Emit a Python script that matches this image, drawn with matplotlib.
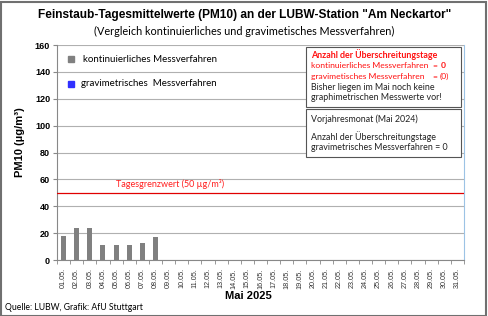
import matplotlib
matplotlib.use("Agg")
from matplotlib import pyplot as plt
from matplotlib.patches import Rectangle
import numpy as np

# data
days = ["%02d.05." % d for d in range(1, 32)]
kontinuierlich = [18, 24, 24, 11, 11, 11, 13, 17]
grenzwert = 50
yticks = [0, 20, 40, 60, 80, 100, 120, 140, 160]

W, H = 489, 316
fig = plt.figure(figsize=(W / 100, H / 100), dpi=100)
ax = fig.add_axes([57 / W, 1 - 260 / H, (464 - 57) / W, (260 - 45) / H])

x = np.arange(len(days))
ax.bar(x[:len(kontinuierlich)], kontinuierlich, width=0.38, color="#808080", zorder=3)
ax.axhline(grenzwert, color="#e00000", lw=0.9, zorder=4)
ax.text(8.1, grenzwert + 2.5, "Tagesgrenzwert (50 µg/m³)", color="#ff2020",
        ha="center", va="bottom", fontsize=6.5, family="Lato")

ax.set_xlim(-0.5, len(days) - 0.5)
ax.set_ylim(0, 160)
ax.set_yticks(yticks)
ax.set_yticklabels([str(v) for v in yticks], fontsize=6.5, fontweight="bold", family="Liberation Sans")
ax.yaxis.grid(True, color="#b0b0b0", lw=0.8, zorder=0)
ax.set_xticks(x)
ax.set_xticklabels(days, rotation=90, fontsize=5.2, family="Liberation Sans", color="#333333")
ax.set_xticks(np.arange(-0.5, len(days)), minor=True)
ax.tick_params(axis="x", which="major", length=0, pad=6)
ax.tick_params(axis="x", which="minor", length=3, color="#888888")
ax.tick_params(axis="y", length=3, color="#888888", pad=2)
ax.spines["top"].set_visible(False)
ax.spines["right"].set_color("#9cc3e5")
ax.spines["left"].set_color("#888888")
ax.spines["bottom"].set_color("#888888")

ax.set_xlabel("Mai 2025", fontsize=8, fontweight="bold", family="Liberation Sans")
ax.xaxis.set_label_coords((248 - 57) / 407, (260 - 291) / 215)
ax.set_ylabel("PM10 (µg/m³)", fontsize=8, fontweight="bold", family="Liberation Sans")
ax.yaxis.set_label_coords((25 - 57) / 407, (260 - 142) / 215)

# legend
ax.add_patch(Rectangle((68 / W, 1 - 62 / H), 6 / W, 6 / H, transform=fig.transFigure,
                       color="#808080", clip_on=False))
fig.text(83 / W, 1 - 59 / H, "kontinuierliches Messverfahren", fontsize=7, family="Lato", va="center")
ax.add_patch(Rectangle((68 / W, 1 - 87 / H), 6 / W, 6 / H, transform=fig.transFigure,
                       color="#3030ff", clip_on=False))
fig.text(81 / W, 1 - 84 / H, "gravimetrisches  Messverfahren", fontsize=7, family="Lato", va="center")

# info boxes
fig.patches.append(Rectangle((306 / W, 1 - 107 / H), 155 / W, 60 / H, transform=fig.transFigure,
                             fill=True, fc="white", ec="#555555", lw=0.8, zorder=5))
fig.patches.append(Rectangle((306 / W, 1 - 157 / H), 155 / W, 48 / H, transform=fig.transFigure,
                             fill=True, fc="white", ec="#555555", lw=0.8, zorder=5))
fs = 6.4
fr = 6.1
red = "#ff1010"
dark = "#222222"


def boxtext(px, py, s, **kw):
    opts = dict(fontsize=fs, family="Lato", va="center", zorder=6, color=dark)
    opts.update(kw)
    fig.text(px / W, 1 - py / H, s, **opts)


boxtext(311, 55, "Anzahl der Überschreitungstage", color=red, fontweight="bold")
boxtext(311, 65.5, "kontinuierliches Messverfahren", color=red, fontsize=fr)
boxtext(432, 65.5, "=", color=red, fontsize=fr)
boxtext(441, 65.5, "0", color=red, fontsize=fr, fontweight="bold")
boxtext(311, 76.5, "gravimetisches Messverfahren", color=red, fontsize=fr)
boxtext(432, 76.5, "=", color=red, fontsize=fr)
boxtext(440, 76.5, "(0)", color=red, fontsize=fr)
boxtext(311, 87, "Bisher liegen im Mai noch keine")
boxtext(311, 98, "graphimetrischen Messwerte vor!")
boxtext(311, 119, "Vorjahresmonat (Mai 2024)")
boxtext(311, 137, "Anzahl der Überschreitungstage")
boxtext(311, 147.5, "gravimetrisches Messverfahren = 0")

# titles
fig.text(0.5, 1 - 15 / H, 'Feinstaub-Tagesmittelwerte (PM10) an der LUBW-Station "Am Neckartor"',
         ha="center", va="center", fontsize=8.6, fontweight="bold", family="Liberation Sans")
fig.text(0.5, 1 - 31 / H, "(Vergleich kontinuierliches und gravimetisches Messverfahren)",
         ha="center", va="center", fontsize=7.8, family="Lato")
fig.text(5 / W, 1 - 308 / H, "Quelle: LUBW, Grafik: AfU Stuttgart", fontsize=6.2,
         family="Lato", va="center")

# outer frame
fig.patches.append(Rectangle((0.5 / W, 0.5 / H), (W - 3) / W, (H - 2) / H, transform=fig.transFigure,
                             fill=False, ec="#707070", lw=1.5))

fig.savefig("out.png", dpi=100)
